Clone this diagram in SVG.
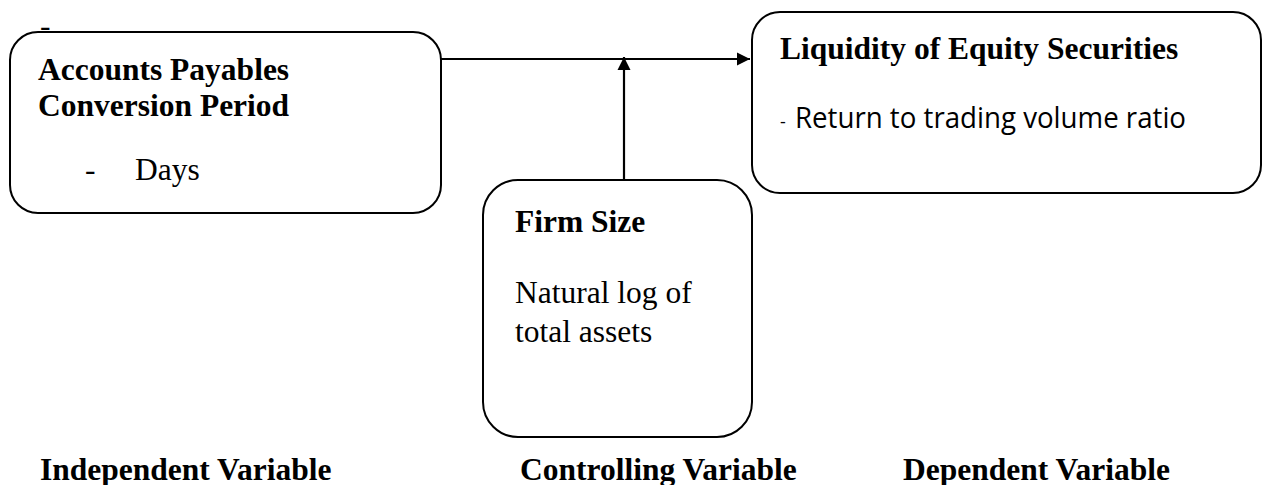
<svg xmlns="http://www.w3.org/2000/svg" width="1273" height="485" viewBox="0 0 1273 485">
<style>
.box{fill:#fff;stroke:#000;stroke-width:2}
.b{font-family:"Liberation Serif","Times New Roman",serif;font-weight:bold;font-size:31.5px;fill:#000}
.r{font-family:"Liberation Serif","Times New Roman",serif;font-size:31.5px;fill:#000}
.c{font-family:"Open Sans","Noto Sans",sans-serif;font-size:29px;fill:#000}
.ln{stroke:#000;stroke-width:2.2;fill:none}
</style>
<defs>
<marker id="arr" viewBox="0 0 10 10" refX="10" refY="5" markerWidth="13" markerHeight="15" markerUnits="userSpaceOnUse" orient="auto">
<path d="M0,0 L10,5 L0,10 Z" fill="#000"/>
</marker>
</defs>
<text class="r" x="40" y="36">-</text>
<g id="connectors">
<line class="ln" x1="441" y1="59" x2="750" y2="59" marker-end="url(#arr)"/>
<line class="ln" x1="624" y1="180" x2="624" y2="57" marker-end="url(#arr)"/>
</g>
<g id="independent">
<rect class="box" x="10" y="32" width="431" height="181" rx="28" ry="28"/>
<text class="b" x="38" y="80">Accounts Payables</text>
<text class="b" x="38" y="116">Conversion Period</text>
<text class="r" x="85" y="180">-</text>
<text class="r" x="135" y="180">Days</text>
</g>
<g id="dependent">
<rect class="box" x="752" y="12" width="509" height="181" rx="28" ry="28"/>
<text class="b" x="780" y="59">Liquidity of Equity Securities</text>
<text class="c" x="780" y="128" style="font-size:18px">-</text>
<text class="c" x="795" y="128" textLength="391" lengthAdjust="spacingAndGlyphs">Return to trading volume ratio</text>
</g>
<g id="controlling">
<rect class="box" x="483" y="180" width="269" height="257" rx="35" ry="35"/>
<text class="b" x="515" y="232">Firm Size</text>
<text class="r" x="515" y="303">Natural log of</text>
<text class="r" x="515" y="342">total assets</text>
</g>
<g id="labels">
<text class="b" x="40" y="480">Independent Variable</text>
<text class="b" x="520" y="480">Controlling Variable</text>
<text class="b" x="903" y="480">Dependent Variable</text>
</g>
</svg>
